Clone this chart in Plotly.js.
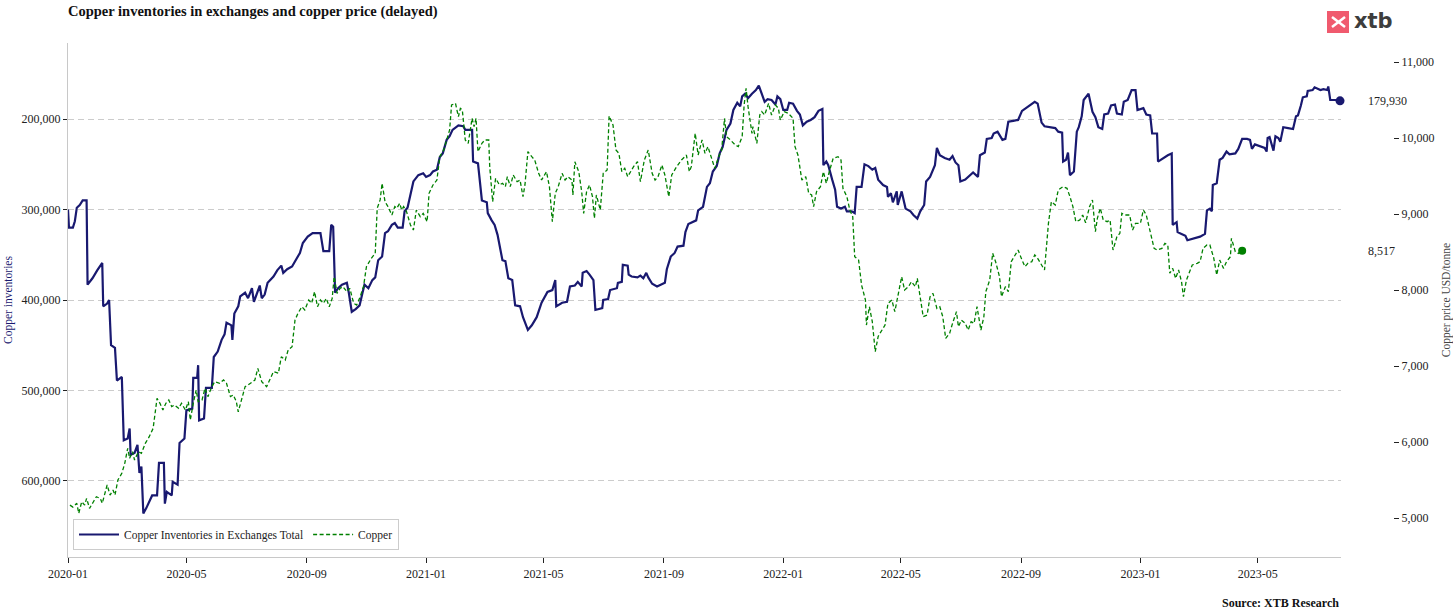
<!DOCTYPE html>
<html>
<head>
<meta charset="utf-8">
<script src="https://cdn.plot.ly/plotly-3.0.1.min.js"></script>
<style>
html,body{margin:0;padding:0;background:#fff;}
#chart{width:1453px;height:612px;}
</style>
</head>
<body>
<div id="chart"></div>
<script>
// ---------- DATA ----------
// Day offsets are counted from 2020-01-01.
const inventoryDays = [0,1,5,7,9,12,15,19,20,25,30,35,36,40,42,44,48,50,55,57,61,63,64,68,71,73,75,77,80,86,91,93,98,99,101,106,107,112,114,119,121,127,128,132,133,134,139,141,147,149,153,157,160,162,167,168,170,174,176,181,184,188,190,193,196,198,201,204,210,214,218,220,224,229,234,237,240,245,250,258,261,267,269,271,273,276,280,285,287,290,294,298,301,303,307,311,314,317,321,324,327,331,334,337,342,344,347,353,358,363,366,370,373,377,380,383,387,390,393,399,404,406,413,414,419,423,428,429,433,436,439,444,447,450,454,457,462,465,470,474,479,484,490,495,498,499,505,510,513,518,521,525,526,530,533,537,539,546,547,552,554,561,562,566,567,572,573,576,582,585,588,591,593,597,602,607,610,612,616,620,623,629,631,634,638,642,644,649,653,656,659,663,666,669,673,677,680,684,687,689,692,695,699,703,706,709,712,715,719,723,725,728,731,735,737,741,745,748,751,755,759,763,767,771,772,775,777,781,784,786,790,794,796,801,804,806,811,814,818,822,825,828,833,837,838,841,843,847,848,852,856,861,864,868,871,875,877,881,884,886,888,891,896,901,904,907,910,912,917,920,925,930,932,937,939,944,946,950,955,958,961,966,971,975,979,983,988,991,995,998,1004,1009,1012,1016,1017,1020,1022,1024,1028,1031,1033,1036,1038,1041,1043,1047,1050,1053,1057,1059,1063,1066,1070,1072,1077,1079,1083,1087,1091,1093,1099,1102,1106,1108,1113,1114,1119,1124,1128,1129,1133,1134,1138,1142,1144,1147,1152,1157,1162,1164,1167,1169,1170,1174,1177,1180,1184,1187,1193,1196,1200,1205,1208,1210,1213,1218,1223,1225,1226,1228,1232,1234,1237,1239,1242,1247,1252,1255,1257,1260,1262,1266,1267,1272,1274,1280,1283,1287,1288,1290,1295,1300];
// Copper inventories in exchanges, thousand tonnes
const inventoryThousandTonnes = [300,320,320,313,298,295,290,290,383,376,367,359,407,404,400,450,453,489,485,555,553,542,571,569,560,591,584,636,630,616,616,580,580,625,612,616,601,604,558,553,522,520,486,486,472,533,531,497,497,463,457,444,438,425,428,444,415,407,396,392,398,387,402,392,384,398,394,381,374,367,362,370,366,363,354,348,337,330,326,326,346,346,317,319,392,387,383,381,392,413,410,406,392,383,387,378,375,356,352,326,324,317,315,320,320,302,298,269,262,260,264,262,258,256,242,238,223,219,212,207,208,212,212,247,249,290,292,304,312,317,328,356,357,376,378,406,407,419,433,428,419,403,391,389,378,407,403,402,385,384,380,385,370,368,372,378,411,409,400,399,389,387,381,380,361,362,372,374,375,373,376,370,375,382,385,383,381,366,352,348,341,340,325,316,314,312,301,297,275,271,258,252,238,231,212,205,190,182,186,175,172,177,172,168,163,173,181,178,179,184,175,178,190,190,182,183,191,195,207,203,201,198,191,189,251,247,251,267,278,297,299,297,302,302,304,275,275,250,252,256,254,267,273,275,286,282,292,280,295,280,299,302,306,310,302,295,269,264,256,251,232,240,243,245,241,248,251,269,267,264,259,264,240,237,222,221,216,214,223,222,203,202,201,191,188,184,181,183,204,208,209,210,214,215,247,245,237,262,258,214,209,197,179,175,172,192,198,209,211,195,194,185,184,194,195,181,179,168,168,190,188,195,196,216,216,247,243,240,238,317,314,325,327,329,334,333,332,330,327,301,299,302,273,271,245,243,236,239,238,233,222,222,223,233,228,230,232,236,221,220,235,219,221,225,209,210,211,197,196,185,176,175,169,168,165,168,167,168,164,179,179,179.93];

const copperDays = [2,5,9,11,14,17,19,22,26,29,33,35,40,43,46,48,51,55,58,61,63,66,68,72,75,79,83,87,91,94,97,100,103,106,109,113,116,120,123,125,128,131,133,137,140,143,147,150,155,159,162,166,169,172,174,178,181,184,188,191,194,198,203,206,210,215,218,222,225,229,232,235,239,242,246,249,252,255,258,261,264,267,270,272,275,278,281,285,288,292,295,298,302,305,310,314,316,319,321,324,327,331,334,336,339,341,343,346,350,353,356,360,363,367,369,373,377,380,384,387,390,392,396,399,401,403,406,409,413,415,417,419,423,426,430,431,434,437,441,444,447,449,452,455,459,462,465,467,470,474,477,481,484,489,492,495,498,501,505,508,511,515,516,518,522,525,527,530,533,536,538,540,544,547,551,553,557,560,563,566,569,572,575,578,582,585,589,593,597,600,603,607,610,614,617,622,627,632,635,637,641,644,648,651,654,658,661,665,668,671,673,677,682,685,689,691,693,695,699,700,704,707,709,712,716,719,723,726,728,732,736,741,743,746,750,754,757,760,762,765,769,772,775,778,782,787,790,792,796,799,802,804,808,811,815,816,819,822,825,828,832,835,838,842,845,849,852,855,859,862,866,868,871,874,878,881,884,888,891,894,897,901,904,908,910,913,917,920,923,926,929,933,936,938,942,945,948,952,954,958,961,964,968,971,975,978,981,985,988,991,995,998,1002,1005,1009,1012,1017,1021,1024,1027,1030,1034,1037,1040,1044,1047,1050,1052,1055,1058,1062,1065,1068,1072,1075,1077,1080,1085,1088,1091,1096,1099,1102,1106,1110,1113,1118,1121,1124,1126,1129,1132,1135,1138,1140,1143,1147,1149,1154,1157,1160,1164,1167,1171,1174,1177,1181,1184,1188,1189,1193,1196,1200];
// Copper price, USD/tonne
const copperPrice = [5170,5144,5193,5061,5214,5170,5258,5127,5214,5280,5258,5193,5434,5302,5368,5302,5500,5588,5719,5917,5785,5873,5763,5873,5851,5982,6070,6180,6575,6509,6421,6509,6553,6465,6487,6443,6509,6421,6531,6289,6509,6684,6531,6553,6706,6597,6728,6794,6772,6816,6772,6597,6619,6531,6398,6597,6728,6750,6794,6816,6969,6794,6728,6816,6926,6904,7122,7078,7210,7254,7605,7693,7780,7737,7868,7825,7978,7780,7868,7825,7890,7780,7890,8175,7956,8022,8044,7978,8022,7825,7803,7890,8044,8307,8417,8483,9075,9185,9404,9163,9097,8987,9097,9075,9141,9053,9097,9031,8855,8789,9053,8965,9009,8899,9272,9382,9447,9754,9843,9974,10105,10434,10456,10281,10390,10368,9974,9930,10259,10149,10259,9820,9930,9974,9974,9623,9162,9469,9382,9404,9360,9491,9360,9513,9425,9447,9228,9382,9820,9754,9710,9535,9447,9557,9360,8899,9272,9360,9535,9447,9491,9447,9250,9688,9557,9294,9009,9294,9382,9228,8943,9250,9053,9535,9579,10290,10171,9842,9798,9557,9601,9491,9557,9623,9688,9425,9710,9842,9535,9447,9491,9645,9513,9228,9513,9623,9710,9776,9557,9623,10062,9776,9974,9798,9886,9710,9601,9754,9842,10259,10018,9974,9908,9886,10018,10434,10654,10412,10062,10149,9930,10303,10347,10303,10456,10303,10434,10390,10237,10347,10325,10259,9886,9776,9447,9491,9272,9250,9096,9294,9360,9557,9404,9557,9733,9754,9710,9338,9228,9053,8965,8438,8394,8066,7868,7539,7780,7583,7188,7390,7473,7539,7825,7868,7715,8000,8175,8000,8044,8110,8044,8153,7868,7649,7671,7912,7956,7758,7780,7649,7364,7430,7561,7715,7517,7605,7561,7473,7583,7561,7780,7473,7649,7978,8131,8483,8373,8175,7912,8044,7978,8373,8461,8526,8394,8307,8351,8373,8461,8417,8329,8263,8877,9162,9119,9316,9360,9338,9228,9097,8899,8921,8987,8885,9097,9185,8767,8943,9075,8921,8899,8921,8526,8702,8746,9009,8987,8987,8789,8877,8877,9053,8987,8746,8548,8526,8548,8614,8592,8220,8285,8153,8263,8110,7912,8131,8263,8329,8351,8373,8548,8592,8592,8417,8197,8394,8285,8373,8438,8680,8504,8482,8517];

const seriesNames = ["Copper Inventories in Exchanges Total", "Copper"];
const leftTicks = [200000, 300000, 400000, 500000, 600000];
const rightTicks = [5000, 6000, 7000, 8000, 9000, 10000, 11000];
const chartTitle = "Copper inventories in exchanges and copper price (delayed)";
const sourceText = "Source: XTB Research";

// ---------- BUILD ----------
function dayToDate(d){
  return new Date(Date.UTC(2020,0,1) + d*86400000).toISOString().slice(0,10);
}
const invX = inventoryDays.map(dayToDate);
const invY = inventoryThousandTonnes.map(v => Math.round(v*1000));
const cuX = copperDays.map(dayToDate);
const cuY = copperPrice.slice();
const fmt = v => v.toLocaleString('en-US');

const NAVY = '#191970', GREEN = '#008000';
const SERIF = '"Liberation Serif", "Times New Roman", serif';
const L = 68, R = 60, T = 43, B = 55, W = 1453, H = 612;
const plotW = W - L - R, plotH = H - T - B;
const px = x => (x - L) / plotW;        // pixel -> paper x
const py = y => (H - B - y) / plotH;    // pixel -> paper y
const xEnd = px(1341);

const traces = [
  {x: invX, y: invY, type: 'scatter', mode: 'lines', name: seriesNames[0],
   line: {color: NAVY, width: 2.2}, yaxis: 'y', hoverinfo: 'skip', cliponaxis: false},
  {x: cuX, y: cuY, type: 'scatter', mode: 'lines', name: seriesNames[1],
   line: {color: GREEN, width: 1.3, dash: '4px,2.5px'}, yaxis: 'y2', hoverinfo: 'skip'},
  {x: [invX[invX.length-1]], y: [invY[invY.length-1]], type: 'scatter', mode: 'markers',
   marker: {color: NAVY, size: 9}, yaxis: 'y', showlegend: false, hoverinfo: 'skip', cliponaxis: false},
  {x: [cuX[cuX.length-1]], y: [cuY[cuY.length-1]], type: 'scatter', mode: 'markers',
   marker: {color: GREEN, size: 8}, yaxis: 'y2', showlegend: false, hoverinfo: 'skip', cliponaxis: false}
];

const layout = {
  width: W, height: H,
  margin: {l: L, r: R, t: T, b: B},
  paper_bgcolor: '#fff', plot_bgcolor: '#fff',
  font: {family: SERIF, size: 12, color: '#222'},
  title: {text: '<b>' + chartTitle + '</b>', font: {family: SERIF, size: 14.5, color: '#111'},
          x: px(68), xref: 'paper', xanchor: 'left', y: 1 - 11/H, yref: 'container', yanchor: 'middle'},
  showlegend: true,
  legend: {orientation: 'h', x: px(73), y: py(550), xanchor: 'left', yanchor: 'bottom',
           bgcolor: 'rgba(255,255,255,0.9)', bordercolor: '#cccccc', borderwidth: 1,
           font: {family: SERIF, size: 11.5, color: '#222'}, itemwidth: 40, tracegroupgap: 0},
  xaxis: {
    domain: [0, xEnd], type: 'date',
    range: ['2020-01-01', '2023-07-25'],
    tick0: '2020-01-01', dtick: 'M4', tickformat: '%Y-%m',
    showgrid: false, zeroline: false,
    showline: true, linecolor: '#c8c8c8', linewidth: 1.2,
    ticks: 'outside', ticklen: 5, tickcolor: '#222', tickwidth: 1,
    tickfont: {family: SERIF, size: 12, color: '#222'}
  },
  yaxis: {
    autorange: false, range: [684000, 116000],
    tickvals: leftTicks, ticktext: leftTicks.map(fmt),
    showgrid: true, gridcolor: '#cccccc', griddash: '6px,4px', gridwidth: 1,
    zeroline: false,
    showline: true, linecolor: '#c8c8c8', linewidth: 1.2,
    ticks: 'outside', ticklen: 4, tickcolor: '#222',
    tickfont: {family: SERIF, size: 12, color: '#222'},
    title: {text: 'Copper inventories', font: {family: SERIF, size: 11.5, color: NAVY}, standoff: 6}
  },
  yaxis2: {
    overlaying: 'y', side: 'right', anchor: 'free', position: 1,
    range: [4487, 11250], autorange: false,
    tickvals: rightTicks, ticktext: rightTicks.map(fmt),
    showgrid: false, zeroline: false, showline: false,
    ticks: 'outside', ticklen: 5, tickcolor: '#222',
    tickfont: {family: SERIF, size: 12, color: '#222'},
    title: {text: 'Copper price USD/tonne', font: {family: SERIF, size: 11.5, color: '#444'}, standoff: 8}
  },
  annotations: [
    {xref: 'paper', x: px(1366), xanchor: 'left', yref: 'y', y: invY[invY.length-1], yanchor: 'middle',
     text: fmt(invY[invY.length-1]), showarrow: false, font: {family: SERIF, size: 12, color: '#222'}},
    {xref: 'paper', x: px(1366), xanchor: 'left', yref: 'y2', y: cuY[cuY.length-1], yanchor: 'middle',
     text: fmt(cuY[cuY.length-1]), showarrow: false, font: {family: SERIF, size: 12, color: '#222'}},
    {xref: 'paper', x: px(1341), xanchor: 'right', yref: 'paper', y: py(603), yanchor: 'middle',
     text: '<b>' + sourceText + '</b>', showarrow: false, font: {family: SERIF, size: 12, color: '#111'}},
    {xref: 'paper', x: px(1352), xanchor: 'left', yref: 'paper', y: py(21), yanchor: 'middle',
     text: '<b>xtb</b>', showarrow: false, font: {family: '"DejaVu Sans", sans-serif', size: 21, color: '#3d3d3d'}}
  ],
  shapes: [
    {type: 'rect', xref: 'paper', yref: 'paper', x0: px(1327), x1: px(1349), y0: py(33), y1: py(11),
     fillcolor: '#f05a6e', line: {width: 0}},
    {type: 'line', xref: 'paper', yref: 'paper', x0: px(1332), x1: px(1345), y0: py(17), y1: py(27),
     line: {color: '#fff', width: 2.5}},
    {type: 'line', xref: 'paper', yref: 'paper', x0: px(1332), x1: px(1345), y0: py(27), y1: py(17),
     line: {color: '#fff', width: 2.5}}
  ]
};

Plotly.newPlot('chart', traces, layout, {displayModeBar: false, staticPlot: true});
</script>
</body>
</html>
